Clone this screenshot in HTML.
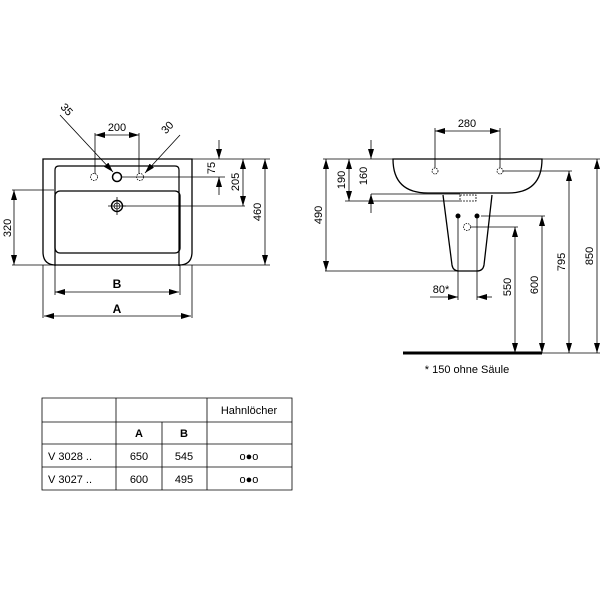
<!DOCTYPE html>
<html><head><style>body{margin:0;background:#fff}svg{display:block}text{font-family:"Liberation Sans",sans-serif;font-size:11px;fill:#000}</style></head><body>
<svg width="600" height="600" viewBox="0 0 600 600" xmlns="http://www.w3.org/2000/svg">
<defs>
<marker id="a" viewBox="0 0 10 6" refX="10" refY="3" markerWidth="10" markerHeight="6" orient="auto-start-reverse" markerUnits="userSpaceOnUse"><path d="M0,0L10,3L0,6z" fill="#000"/></marker>
</defs>
<g fill="none" stroke="#000" stroke-width="0.8">
<!-- left basin -->
<path d="M43,159 L43,252 Q43,265 56,265 L179,265 Q192,265 192,252 L192,159 Z" stroke-width="1.3"/>
<path d="M55,266 L55,170 Q55,166 59,166 L175,166 Q179,166 179,170 L179,266" stroke-width="1.2"/>
<rect x="55" y="191" width="125" height="62" rx="5" stroke-width="1.3"/>
<circle cx="94" cy="177" r="3.5" stroke-dasharray="1.5,1"/>
<circle cx="117" cy="177" r="4.5" stroke-width="1.5"/>
<circle cx="140" cy="177" r="3.5" stroke-dasharray="1.5,1"/>
<circle cx="117" cy="206" r="5.5" stroke-width="1.4"/>
<circle cx="117" cy="206" r="3"/>
<path d="M108,206h18M117,197v18"/>
<!-- 200 -->
<path d="M95,133V174M139,133V174"/>
<path d="M95,135H139" marker-start="url(#a)" marker-end="url(#a)"/>
<path d="M60,115L113,172" marker-end="url(#a)"/>
<path d="M180,135L145,173" marker-end="url(#a)"/>
<!-- right dims -->
<path d="M121,177H225M192,159H270M122,206H245M12,265H270M12,190H54"/>
<path d="M219,140V159" marker-end="url(#a)"/>
<path d="M219,195V177" marker-end="url(#a)"/>
<path d="M243,159V206" marker-start="url(#a)" marker-end="url(#a)"/>
<path d="M265,159V265" marker-start="url(#a)" marker-end="url(#a)"/>
<path d="M14,190V265" marker-start="url(#a)" marker-end="url(#a)"/>
<path d="M43,265V318M192,265V318M55,265V295M180,265V295"/>
<path d="M55,292H179" marker-start="url(#a)" marker-end="url(#a)"/>
<path d="M44,316H191" marker-start="url(#a)" marker-end="url(#a)"/>
<!-- right side view -->
<path d="M393,159H542 Q542,193 508,193 L428,193 Q393,193 393,159Z" stroke-width="1.3"/>
<path d="M443,195 L452,265 Q453,271 459,271 L477,271 Q483,271 484,265 L492,195" stroke-width="1.3"/>
<rect x="460" y="195" width="16" height="6" stroke-dasharray="2,1"/>
<circle cx="435" cy="171" r="3" stroke-dasharray="1.5,1"/>
<circle cx="500" cy="171" r="3" stroke-dasharray="1.5,1"/>
<circle cx="467" cy="227" r="3.5" stroke-dasharray="1.5,1"/>
<path d="M435,128V168M500,128V168"/>
<path d="M435,131H500" marker-start="url(#a)" marker-end="url(#a)"/>
<path d="M323,159H393M345,201H460M371,194H460M325,271H458"/>
<path d="M326,159V271" marker-start="url(#a)" marker-end="url(#a)"/>
<path d="M349,159V201" marker-start="url(#a)" marker-end="url(#a)"/>
<path d="M371,140V159" marker-end="url(#a)"/>
<path d="M371,213V194" marker-end="url(#a)"/>
<path d="M458,216V300M477,216V300"/>
<path d="M430,297H458" marker-end="url(#a)"/>
<path d="M492,297H477" marker-end="url(#a)"/>
<path d="M471,227H518M481,216H545M503,171H572M542,159H600M542,353H600"/>
<path d="M515,227V353" marker-start="url(#a)" marker-end="url(#a)"/>
<path d="M542,216V353" marker-start="url(#a)" marker-end="url(#a)"/>
<path d="M569,171V353" marker-start="url(#a)" marker-end="url(#a)"/>
<path d="M597,159V353" marker-start="url(#a)" marker-end="url(#a)"/>
<path d="M403,353H542" stroke-width="3"/>
<!-- table -->
<path d="M42,398H292V490H42Z M42,422H292 M42,444H292 M42,467H292 M116,398V490 M207,398V490 M162,422V490"/>
</g>
<circle cx="458" cy="216" r="2.5"/><circle cx="477" cy="216" r="2.5"/>
<text x="117" y="131" text-anchor="middle">200</text>
<text x="0" y="0" transform="translate(64,112) rotate(47)" text-anchor="middle">35</text>
<text x="0" y="0" transform="translate(170,130) rotate(-47)" text-anchor="middle">30</text>
<text transform="translate(215,168) rotate(-90)" text-anchor="middle">75</text>
<text transform="translate(239,182) rotate(-90)" text-anchor="middle">205</text>
<text transform="translate(261,212) rotate(-90)" text-anchor="middle">460</text>
<text transform="translate(11,228) rotate(-90)" text-anchor="middle">320</text>
<text x="117" y="288" text-anchor="middle" font-weight="bold" style="font-size:12px">B</text>
<text x="117" y="313" text-anchor="middle" font-weight="bold" style="font-size:12px">A</text>
<text x="467" y="127" text-anchor="middle">280</text>
<text transform="translate(322,215) rotate(-90)" text-anchor="middle">490</text>
<text transform="translate(345,180) rotate(-90)" text-anchor="middle">190</text>
<text transform="translate(367,176) rotate(-90)" text-anchor="middle">160</text>
<text x="441" y="293" text-anchor="middle">80*</text>
<text transform="translate(511,287) rotate(-90)" text-anchor="middle">550</text>
<text transform="translate(538,285) rotate(-90)" text-anchor="middle">600</text>
<text transform="translate(565,262) rotate(-90)" text-anchor="middle">795</text>
<text transform="translate(593,256) rotate(-90)" text-anchor="middle">850</text>
<text x="467" y="373" text-anchor="middle">* 150 ohne Säule</text>
<text x="249" y="414" text-anchor="middle">Hahnlöcher</text>
<text x="139" y="437" text-anchor="middle" font-weight="bold">A</text>
<text x="184" y="437" text-anchor="middle" font-weight="bold">B</text>
<text x="48" y="460">V 3028 ..</text>
<text x="139" y="460" text-anchor="middle">650</text>
<text x="184" y="460" text-anchor="middle">545</text>
<text x="249" y="460" text-anchor="middle">o●o</text>
<text x="48" y="483">V 3027 ..</text>
<text x="139" y="483" text-anchor="middle">600</text>
<text x="184" y="483" text-anchor="middle">495</text>
<text x="249" y="483" text-anchor="middle">o●o</text>
</svg>
</body></html>
